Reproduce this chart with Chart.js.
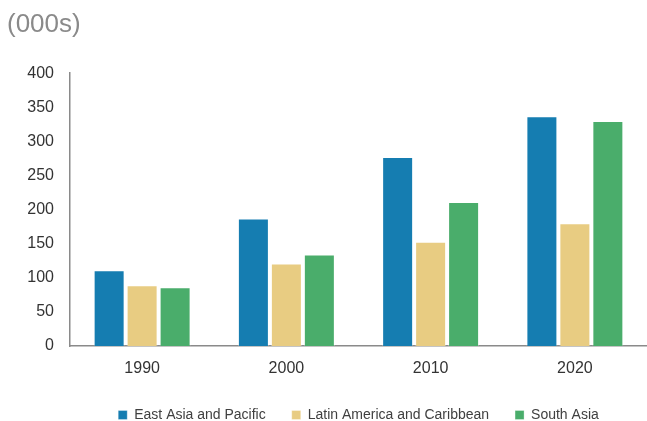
<!DOCTYPE html>
<html>
<head>
<meta charset="utf-8">
<script src="https://cdn.jsdelivr.net/npm/chart.js@4.4.1/dist/chart.umd.min.js"></script>
<style>
  html, body { margin: 0; padding: 0; background: #ffffff; }
  #wrap { width: 647px; height: 421px; position: relative; }
</style>
</head>
<body>
<div id="wrap"><canvas id="chart"></canvas></div>
<script>
// Population by region, thousands
const years = ['1990', '2000', '2010', '2020'];
const seriesNames = ['East Asia and Pacific', 'Latin America and Caribbean', 'South Asia'];
const eastAsiaPacific = [111, 187, 277, 337];
const latinAmericaCaribbean = [89, 121, 153, 180];
const southAsia = [86, 134, 211, 330];
const yTicks = [0, 50, 100, 150, 200, 250, 300, 350, 400];

const colors = ['#157db1', '#e8cc82', '#4aad6b'];
const values = [eastAsiaPacific, latinAmericaCaribbean, southAsia];

const FONT = "'Liberation Sans', Arial, sans-serif";

new Chart(document.getElementById('chart'), {
  type: 'bar',
  data: {
    labels: years,
    datasets: seriesNames.map((name, i) => ({
      label: name,
      data: values[i],
      backgroundColor: colors[i],
      borderColor: 'rgba(255,255,255,0.3)',
      borderWidth: 1,
      categoryPercentage: 0.686,
      barPercentage: 0.94
    }))
  },
  options: {
    responsive: true,
    maintainAspectRatio: false,
    animation: false,
    layout: { padding: { left: 7, right: 0, top: 0, bottom: 0 } },
    plugins: {
      title: {
        display: true,
        text: '(000s)',
        align: 'start',
        color: '#8a8a8a',
        font: { family: FONT, size: 26, weight: 'normal', lineHeight: 1.2 },
        padding: { top: 9, bottom: 33 }
      },
      legend: {
        position: 'bottom',
        fullSize: false,
        maxHeight: 39,
        labels: {
          boxWidth: 9,
          boxHeight: 9,
          padding: 26,
          color: '#404040',
          font: { family: FONT, size: 14 }
        }
      },
      tooltip: { enabled: false }
    },
    scales: {
      x: {
        afterFit: (scale) => { scale.height = 36; },
        grid: { display: false, drawTicks: false },
        border: { display: true, color: '#8a8a8a', width: 1.5 },
        ticks: { color: '#333333', font: { family: FONT, size: 16 }, padding: 13 }
      },
      y: {
        min: 0,
        max: 400,
        afterBuildTicks: (scale) => { scale.ticks = yTicks.map(v => ({ value: v })); },
        afterFit: (scale) => { scale.width = 63; },
        grid: { display: false, drawTicks: false },
        border: { display: true, color: '#8a8a8a', width: 1.5 },
        ticks: { color: '#333333', font: { family: FONT, size: 16 }, padding: 16 }
      }
    }
  }
});
</script>
</body>
</html>
